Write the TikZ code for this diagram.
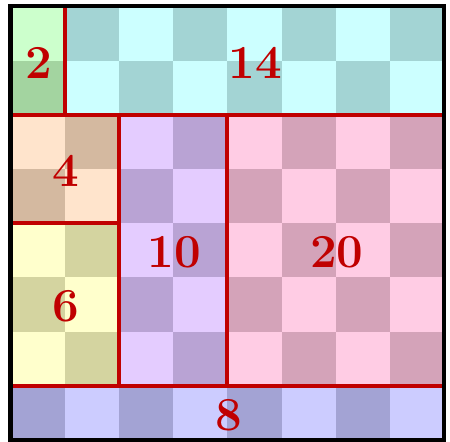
\documentclass[tikz,border=0pt]{standalone}
\usepackage{tikz}
\definecolor{gL}{HTML}{CCFFCC}\definecolor{gD}{HTML}{A3D4A0}
\definecolor{cL}{HTML}{CCFFFF}\definecolor{cD}{HTML}{A3D4D4}
\definecolor{pL}{HTML}{FFE4CC}\definecolor{pD}{HTML}{D4B9A0}
\definecolor{yL}{HTML}{FFFFCC}\definecolor{yD}{HTML}{D4D4A0}
\definecolor{vL}{HTML}{E4CCFF}\definecolor{vD}{HTML}{B9A3D4}
\definecolor{kL}{HTML}{FFCCE4}\definecolor{kD}{HTML}{D4A3B9}
\definecolor{bL}{HTML}{CCCCFF}\definecolor{bD}{HTML}{A3A3D4}
\definecolor{lab}{HTML}{C00000}
\tikzset{
  regionbox/.style={draw=lab, line width=2.1pt},
  outerbox/.style={draw=black, line width=2.2pt},
  numlabel/.style={text=lab, font=\Huge\bfseries, inner sep=0pt, xshift=0.02cm, yshift=-0.04cm}
}
\newcommand{\fillregion}[6]{%
  \foreach \i in {#1,...,#3}{%
    \foreach \j in {#2,...,#4}{%
      \pgfmathtruncatemacro{\myparity}{mod(\i+\j,2)}%
      \ifnum\myparity=0 \fill[#5] (\i,7-\j) rectangle ++(1,1);%
      \else \fill[#6] (\i,7-\j) rectangle ++(1,1);\fi
    }}}
\begin{document}
\begin{tikzpicture}[x=1cm,y=1cm]
\useasboundingbox (-0.194,-0.037) rectangle (8.109,8.118);
\fillregion{0}{0}{0}{1}{gL}{gD}
\fillregion{1}{0}{7}{1}{cL}{cD}
\fillregion{0}{2}{1}{3}{pL}{pD}
\fillregion{0}{4}{1}{6}{yL}{yD}
\fillregion{2}{2}{3}{6}{vL}{vD}
\fillregion{4}{2}{7}{6}{kL}{kD}
\fillregion{0}{7}{7}{7}{bL}{bD}
\draw[regionbox] (0,6) rectangle (1,8);
\draw[regionbox] (1,6) rectangle (8,8);
\draw[regionbox] (0,4) rectangle (2,6);
\draw[regionbox] (0,1) rectangle (2,4);
\draw[regionbox] (2,1) rectangle (4,6);
\draw[regionbox] (4,1) rectangle (8,6);
\draw[regionbox] (0,0) rectangle (8,1);
\draw[outerbox] (0,0) rectangle (8,8);
\node[numlabel] (n2) at (0.5,7) {2};
\node[numlabel] (n14) at (4.5,7) {14};
\node[numlabel] (n4) at (1,5) {4};
\node[numlabel] (n6) at (1,2.5) {6};
\node[numlabel] (n10) at (3,3.5) {10};
\node[numlabel] (n20) at (6,3.5) {20};
\node[numlabel] (n8) at (4,0.5) {8};
\end{tikzpicture}
\end{document}
